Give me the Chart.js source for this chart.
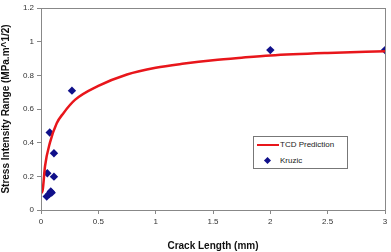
<!DOCTYPE html>
<html>
<head>
<meta charset="utf-8">
<script src="https://cdn.jsdelivr.net/npm/chart.js"></script>
<style>
    html, body { margin: 0; padding: 0; background: #fff; }
    #wrap { position: relative; width: 391px; height: 252px; }
    #legend {
        position: absolute; left: 253px; top: 136px; width: 93px; height: 31px;
        border: 1px solid #777; background: #fff;
        font-family: "Liberation Sans", Arial, sans-serif; font-size: 8px; color: #222;
    }
    #legend .row { position: absolute; left: 0; height: 10px; line-height: 10px; }
    #legend .line { position: absolute; left: 3px; top: 4px; width: 22px; height: 2px; background: #e8161b; }
    #legend .dia { position: absolute; left: 11px; top: 2px; width: 5px; height: 5px; background: #10108a; transform: rotate(45deg); }
    #legend .txt { position: absolute; left: 26px; white-space: nowrap; }
</style>
</head>
<body>
<div id="wrap">
    <canvas id="chart" width="391" height="252"></canvas>
    <div id="legend">
        <div class="row" style="top:3px"><div class="line"></div><span class="txt">TCD Prediction</span></div>
        <div class="row" style="top:19px"><div class="dia"></div><span class="txt">Kruzic</span></div>
    </div>
</div>
<script>
// curva TCD
const tcdX = [0.002, 0.015, 0.035, 0.078, 0.137, 0.194, 0.296, 0.5, 0.75, 1, 1.25, 1.5, 1.75, 2, 2.5, 3];
const tcdY = [0.10, 0.12, 0.26, 0.40, 0.515, 0.574, 0.654, 0.737, 0.805, 0.845, 0.87, 0.89, 0.905, 0.918, 0.933, 0.943];

// pontos experimentais Kruzic
const kruzicX = [0.05, 0.072, 0.085, 0.093, 0.055, 0.076, 0.113, 0.113, 0.27, 2, 3];
const kruzicY = [0.08, 0.095, 0.11, 0.103, 0.218, 0.46, 0.337, 0.198, 0.709, 0.95, 0.95];

const xTicks = [0, 0.5, 1, 1.5, 2, 2.5, 3];
const yTicks = [0, 0.2, 0.4, 0.6, 0.8, 1, 1.2];

const frame = {
    id: 'frame',
    afterDraw(chart) {
        const a = chart.chartArea, ctx = chart.ctx;
        ctx.save();
        ctx.strokeStyle = '#888';
        ctx.lineWidth = 1;
        ctx.strokeRect(Math.round(a.left) + 0.5, Math.round(a.top) + 0.5,
            Math.round(a.right - a.left), Math.round(a.bottom - a.top));
        ctx.restore();
    }
};

const tickFont = { family: '"Liberation Sans", Arial, sans-serif', size: 8 };
const titleFont = { family: '"Liberation Sans", Arial, sans-serif', size: 10, weight: 'bold' };

new Chart(document.getElementById('chart'), {
    type: 'scatter',
    data: {
        datasets: [
            {
                label: 'TCD Prediction',
                type: 'line',
                data: tcdX.map((x, i) => ({ x: x, y: tcdY[i] })),
                borderColor: '#e8161b',
                borderWidth: 2.5,
                pointRadius: 0,
                fill: false,
                cubicInterpolationMode: 'monotone'
            },
            {
                label: 'Kruzic',
                data: kruzicX.map((x, i) => ({ x: x, y: kruzicY[i] })),
                pointStyle: 'rectRot',
                pointRadius: 4.2,
                backgroundColor: '#10108a',
                borderColor: '#10108a',
                borderWidth: 0
            }
        ]
    },
    options: {
        responsive: false,
        animation: false,
        layout: { padding: { top: 8, right: 6, left: 0, bottom: 0 } },
        plugins: { legend: { display: false }, tooltip: { enabled: false } },
        scales: {
            x: {
                type: 'linear', min: 0, max: 3,
                afterBuildTicks: s => { s.ticks = xTicks.map(v => ({ value: v })); },
                afterFit: s => { s.height = 42; },
                grid: { drawOnChartArea: false, tickLength: 4, color: '#888' },
                border: { color: '#888' },
                ticks: { font: tickFont, color: '#333', padding: 3, maxRotation: 0, callback: v => String(v) },
                title: { display: true, text: 'Crack Length (mm)', font: titleFont, color: '#111', padding: { top: 4, bottom: 0 } }
            },
            y: {
                type: 'linear', min: 0, max: 1.2,
                afterBuildTicks: s => { s.ticks = yTicks.map(v => ({ value: v })); },
                afterFit: s => { s.width = 41; },
                grid: { drawOnChartArea: false, tickLength: 4, color: '#888' },
                border: { color: '#888' },
                ticks: { font: tickFont, color: '#333', padding: 3, callback: v => String(v) },
                title: { display: true, text: 'Stress Intensity Range (MPa.m^1/2)', font: titleFont, color: '#111', padding: { top: 0, bottom: 2 } }
            }
        }
    },
    plugins: [frame]
});
</script>
</body>
</html>
